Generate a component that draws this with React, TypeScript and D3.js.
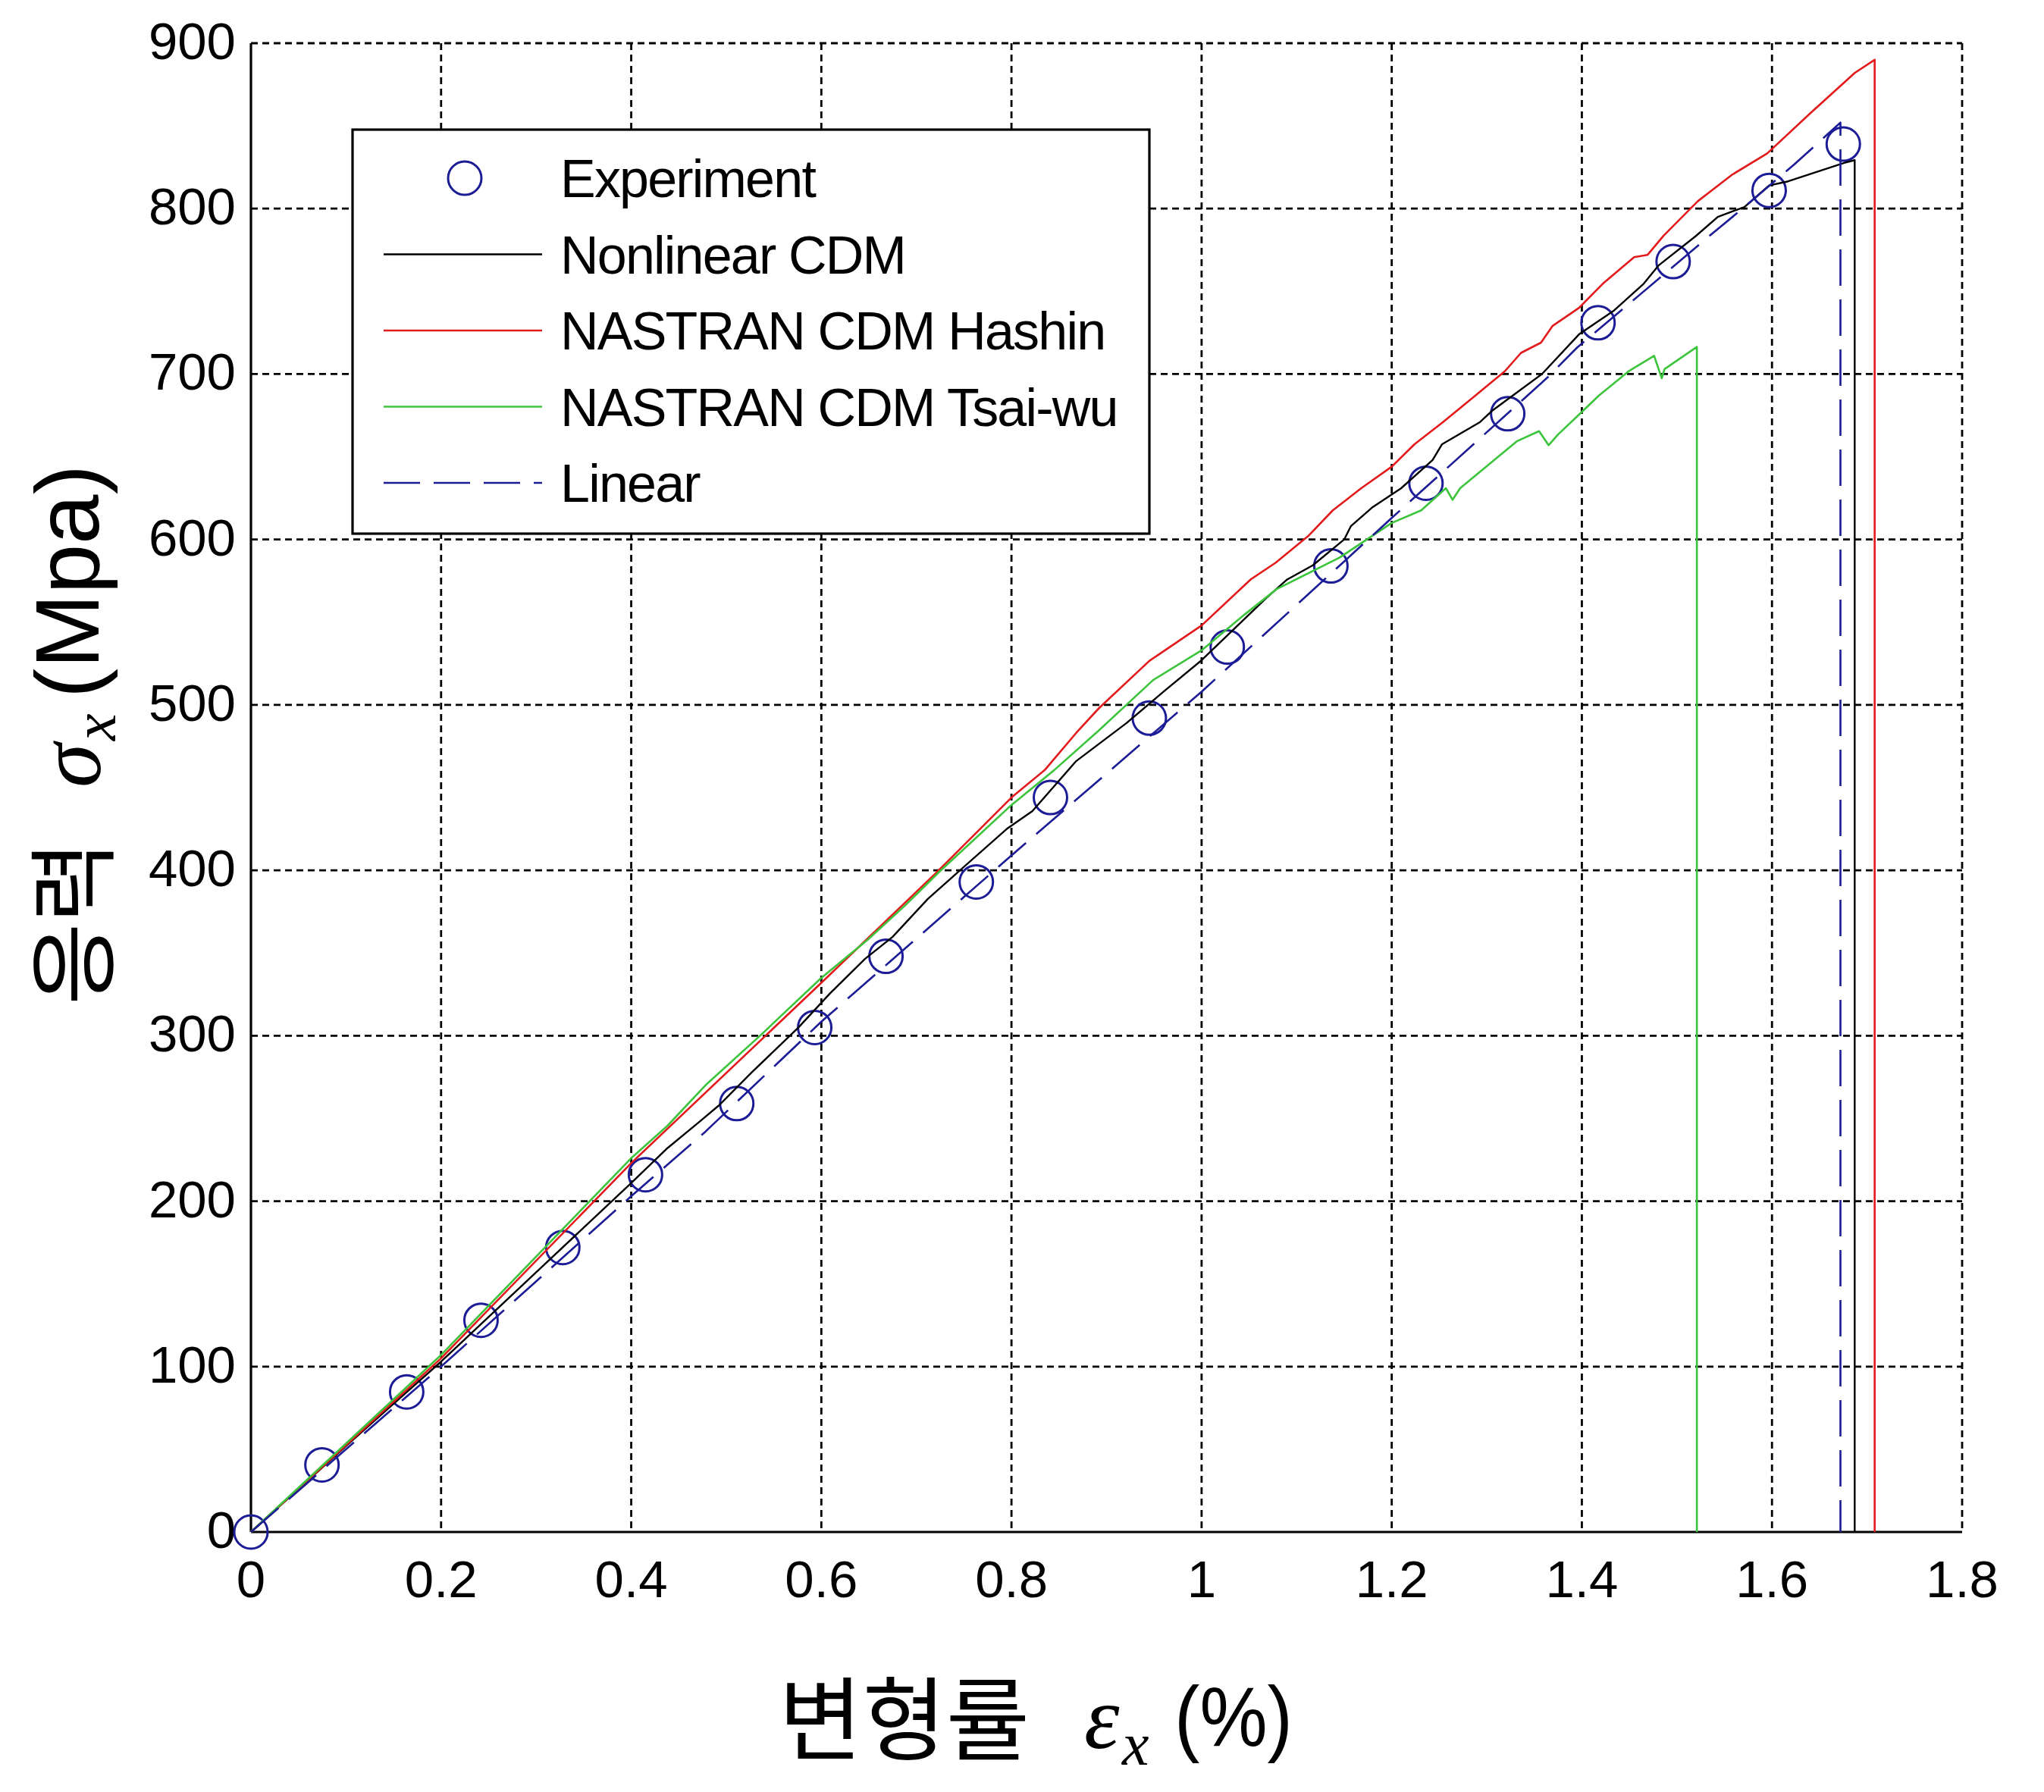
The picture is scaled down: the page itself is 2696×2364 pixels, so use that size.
import React from 'react';
import * as d3 from 'd3';

// ---------- data ----------
const xTicks = [0, 0.2, 0.4, 0.6, 0.8, 1, 1.2, 1.4, 1.6, 1.8];
const xTickLabels = ['0', '0.2', '0.4', '0.6', '0.8', '1', '1.2', '1.4', '1.6', '1.8'];
const yTicks = [0, 100, 200, 300, 400, 500, 600, 700, 800, 900];

const expX = [0, 0.0747, 0.1638, 0.242, 0.328, 0.415, 0.511, 0.593, 0.668, 0.763, 0.841, 0.945, 1.027, 1.136, 1.236, 1.322, 1.417, 1.496, 1.597, 1.675];
const expY = [0, 40.6, 84.7, 128, 172, 216, 259, 305, 348, 393, 444, 492, 535, 584, 634, 676, 731, 768, 811, 839];

const nlX = [0, 0.1, 0.2, 0.3, 0.4, 0.438, 0.471, 0.4925, 0.527, 0.576, 0.609, 0.646, 0.675, 0.712, 0.738, 0.795, 0.822, 0.868, 0.921, 0.96, 1.0, 1.067, 1.09, 1.117, 1.15, 1.157, 1.18, 1.21, 1.243, 1.253, 1.293, 1.306, 1.358, 1.397, 1.434, 1.465, 1.481, 1.52, 1.543, 1.571, 1.597, 1.617, 1.676, 1.687, 1.687];
const nlY = [0, 52, 103, 157, 211, 232, 247.6, 258, 278, 305, 325.5, 346.5, 359.8, 382.7, 396, 425, 435.8, 466, 489, 508, 527, 564, 575.8, 584.4, 600, 608, 619.6, 631, 648, 657.6, 671, 678, 700, 724, 738.5, 754.6, 765.8, 783.5, 795, 801, 814, 816.5, 827.7, 829.3, 0];

const hsX = [0, 0.2, 0.4, 0.6, 0.72, 0.8, 0.835, 0.868, 0.892, 0.945, 1.0, 1.052, 1.078, 1.112, 1.138, 1.168, 1.2, 1.224, 1.254, 1.29, 1.319, 1.336, 1.357, 1.369, 1.397, 1.422, 1.455, 1.469, 1.486, 1.522, 1.558, 1.595, 1.64, 1.687, 1.708, 1.708];
const hsY = [0, 105, 223, 332, 398, 444, 460.6, 483, 498, 526.6, 548, 576, 586, 602, 617.6, 631, 644, 657.6, 671, 688, 701.7, 712.8, 719, 729, 740, 754.6, 770.7, 772, 783.7, 804.5, 820.5, 833.4, 857.5, 882, 890, 0];

const twX = [0, 0.2, 0.4, 0.438, 0.478, 0.537, 0.6, 0.6487, 0.688, 0.725, 0.761, 0.8, 0.845, 0.892, 0.949, 1.0, 1.046, 1.079, 1.145, 1.2, 1.231, 1.257, 1.264, 1.272, 1.332, 1.355, 1.365, 1.375, 1.398, 1.418, 1.449, 1.476, 1.484, 1.487, 1.521, 1.521];
const twY = [0, 107, 226, 245.5, 270, 300.8, 335, 358, 378.7, 399.6, 418.7, 439.5, 460.6, 484.6, 515, 533, 555, 570, 589, 610, 617.6, 631, 624, 631, 659.5, 665.5, 657, 663.5, 676, 687, 701.6, 711, 697.5, 703, 716.4, 0];

const lnX = [0, 0.2, 0.4, 0.478, 0.6, 0.8, 1.0, 1.2, 1.364, 1.395, 1.459, 1.529, 1.571, 1.624, 1.672, 1.672];
const lnY = [0, 100, 203, 242, 308.5, 409, 508, 613, 698, 716, 747, 781, 801, 827, 852, 0];

const legendLabels = ['Experiment', 'Nonlinear CDM', 'NASTRAN CDM Hashin', 'NASTRAN CDM Tsai-wu', 'Linear'];

// ---------- styles ----------
const W = 2696;
const H = 2364;
const M = { left: 331, right: 2588, top: 57, bottom: 2021 };
const C_BLUE = '#1c1c96';
const C_RED = '#e31a1c';
const C_GREEN = '#3cc43c';
const SANS = '"Liberation Sans", Arial, Helvetica, sans-serif';
const SERIF = '"Liberation Serif", "Times New Roman", serif';
const CJK = '"Noto Sans CJK KR", "Noto Sans CJK SC", sans-serif';

export default function App() {
  const x = d3.scaleLinear().domain([0, 1.8]).range([M.left, M.right]);
  const y = d3.scaleLinear().domain([0, 900]).range([M.bottom, M.top]);

  const mk = (xs: number[], ys: number[]) => {
    const pts: [number, number][] = xs.map((v, i) => [v, ys[i]]);
    return d3.line<[number, number]>().x(d => x(d[0])).y(d => y(d[1]))(pts) || '';
  };

  const series = [
    { d: mk(nlX, nlY), color: '#000', width: 2.4, dash: undefined as string | undefined },
    { d: mk(hsX, hsY), color: C_RED, width: 2.6, dash: undefined },
    { d: mk(twX, twY), color: C_GREEN, width: 2.6, dash: undefined },
    { d: mk(lnX, lnY), color: C_BLUE, width: 2.6, dash: '48,18' },
  ];

  const gridDash = '9,6';
  const legend = { x0: 465, y0: 171, x1: 1516, y1: 704 };
  const rowY = [235, 335.5, 436, 536.5, 637];
  const legendStyles = [
    { color: C_BLUE, dash: undefined as string | undefined, marker: true },
    { color: '#000', dash: undefined, marker: false },
    { color: C_RED, dash: undefined, marker: false },
    { color: C_GREEN, dash: undefined, marker: false },
    { color: C_BLUE, dash: '48,18', marker: false },
  ];

  return (
    <div style={{ position: 'absolute', left: 0, top: 0 }}>
      <svg width={W} height={H} viewBox={`0 0 ${W} ${H}`} style={{ display: 'block', background: '#fff' }}>
        <rect x={0} y={0} width={W} height={H} fill="#fff" />
        {/* grid */}
        {xTicks.filter(t => t > 0).map(t => (
          <line key={'gx' + t} x1={x(t)} x2={x(t)} y1={M.top} y2={M.bottom} stroke="#000" strokeWidth={2.8} strokeDasharray={gridDash} />
        ))}
        {yTicks.filter(t => t > 0).map(t => (
          <line key={'gy' + t} x1={M.left} x2={M.right} y1={y(t)} y2={y(t)} stroke="#000" strokeWidth={2.8} strokeDasharray={gridDash} />
        ))}
        {/* axes */}
        <line x1={M.left} x2={M.left} y1={M.top} y2={M.bottom} stroke="#000" strokeWidth={3.2} />
        <line x1={M.left} x2={M.right} y1={M.bottom} y2={M.bottom} stroke="#000" strokeWidth={3.2} />

        {/* tick labels */}
        {xTicks.map((t, i) => (
          <text key={'tx' + t} x={x(t)} y={2107} textAnchor="middle" fontFamily={SANS} fontSize={69} fill="#000">{xTickLabels[i]}</text>
        ))}
        {yTicks.map(t => (
          <text key={'ty' + t} x={311} y={y(t) + 21} textAnchor="end" fontFamily={SANS} fontSize={69} fill="#000">{t}</text>
        ))}

        {/* experiment markers */}
        {expX.map((v, i) => (
          <circle key={'e' + i} cx={x(v)} cy={y(expY[i])} r={22} fill="none" stroke={C_BLUE} strokeWidth={3} />
        ))}

        {/* curves */}
        {series.map((s, i) => (
          <path key={'s' + i} d={s.d} fill="none" stroke={s.color} strokeWidth={s.width} strokeDasharray={s.dash} strokeLinejoin="round" />
        ))}

        {/* legend */}
        <rect x={legend.x0} y={legend.y0} width={legend.x1 - legend.x0} height={legend.y1 - legend.y0} fill="#fff" stroke="#000" strokeWidth={3.2} />
        {legendLabels.map((lab, i) => (
          <g key={'lg' + i}>
            {legendStyles[i].marker ? (
              <circle cx={613} cy={rowY[i]} r={22} fill="none" stroke={legendStyles[i].color} strokeWidth={3} />
            ) : (
              <line x1={506} x2={715} y1={rowY[i]} y2={rowY[i]} stroke={legendStyles[i].color} strokeWidth={2.6} strokeDasharray={legendStyles[i].dash} />
            )}
            <text x={739} y={rowY[i] + 25} fontFamily={SANS} fontSize={70} letterSpacing={-1.8} fill="#000">{lab}</text>
          </g>
        ))}

        {/* x label */}
        <text x={1027} y={2313} fontFamily={CJK} fontSize={120} fill="#000">변형률</text>
        <text x={1430} y={2306} fontFamily={SERIF} fontStyle="italic" fontSize={118} fill="#000">ε</text>
        <text x={1480} y={2328} fontFamily={SERIF} fontStyle="italic" fontSize={80} fill="#000">x</text>
        <text x={1549} y={2303} fontFamily={SANS} fontSize={112} textLength={156} lengthAdjust="spacingAndGlyphs" fill="#000">(%)</text>

        {/* y label */}
        <g transform="translate(140, 1326) rotate(-90)">
          <text x={0} y={0} fontFamily={CJK} fontSize={118} fill="#000">응력</text>
          <text x={287} y={-8} fontFamily={SERIF} fontStyle="italic" fontSize={118} fill="#000">σ</text>
          <text x={349} y={12} fontFamily={SERIF} fontStyle="italic" fontSize={80} fill="#000">x</text>
          <text x={405} y={-10} fontFamily={SANS} fontSize={118} textLength={308} lengthAdjust="spacingAndGlyphs" fill="#000">(Mpa)</text>
        </g>
      </svg>
    </div>
  );
}
